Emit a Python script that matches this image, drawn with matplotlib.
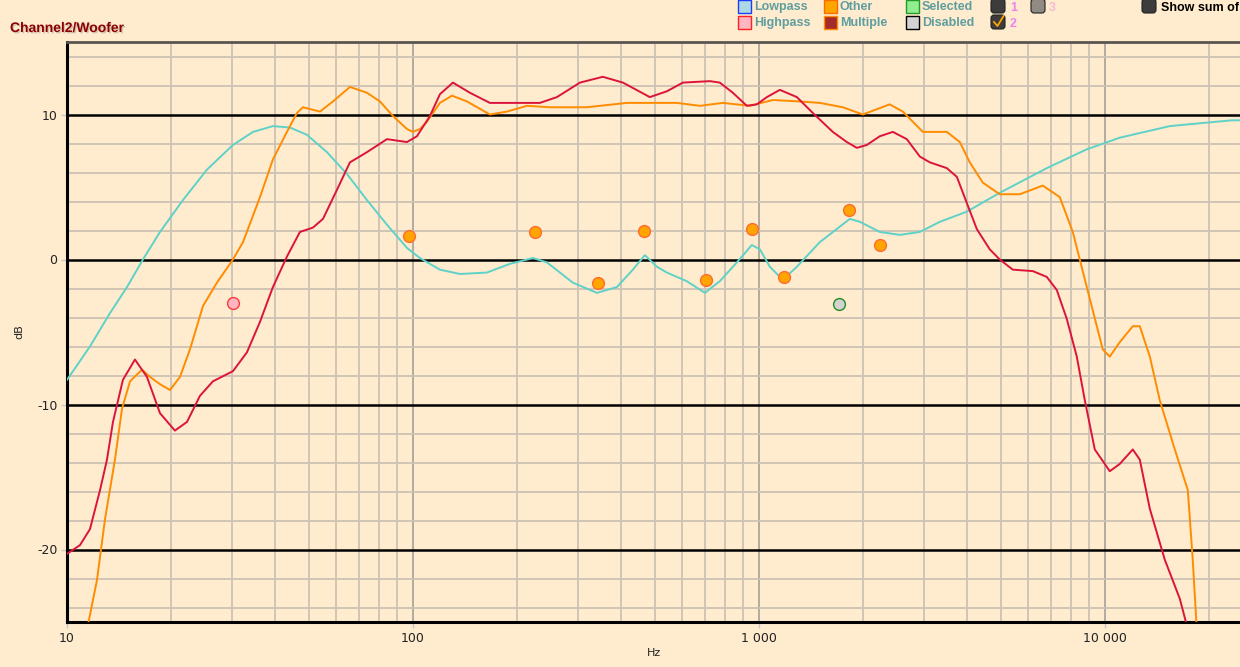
import matplotlib
matplotlib.use("Agg")
import matplotlib.pyplot as plt
from matplotlib.ticker import FixedLocator, MultipleLocator, NullFormatter
from matplotlib.patches import Rectangle, FancyBboxPatch
import matplotlib.patheffects as pe

# ---------------- data ----------------
red_freq = [10.0, 10.9, 11.65, 12.46, 13.05, 13.58, 14.51, 15.72, 17.03, 18.57, 20.51, 22.23,
            24.23, 26.42, 30.18, 33.13, 36.13, 39.38, 43.23, 47.13, 51.4, 54.95, 60.29, 65.75,
            73.62, 84.13, 96.1, 102.7, 112.0, 119.7, 130.5, 146.1, 166.9, 199.7, 232.8, 260.8,
            304, 354, 404.6, 484, 542, 603, 722, 771, 841, 923, 987, 1055, 1150, 1288, 1433,
            1636, 1796, 1920, 2052, 2237, 2440, 2677, 2920, 3121, 3495, 3736, 3992, 4267, 4651,
            4971, 5422, 6194, 6797, 7265, 7767, 8301, 8755, 9357, 10340, 11050, 12050, 12625,
            13500, 14910, 16480, 17380]
red_db = [-20.3, -19.7, -18.6, -15.9, -13.8, -11.2, -8.3, -6.9, -8.1, -10.6, -11.8, -11.2,
          -9.4, -8.4, -7.7, -6.4, -4.3, -1.9, 0.2, 1.9, 2.2, 2.8, 4.8, 6.7,
          7.4, 8.3, 8.1, 8.5, 9.9, 11.4, 12.2, 11.5, 10.8, 10.8, 10.8, 11.2,
          12.2, 12.6, 12.2, 11.2, 11.6, 12.2, 12.3, 12.2, 11.5, 10.6, 10.7, 11.2, 11.7, 11.2, 10.1,
          8.8, 8.1, 7.7, 7.9, 8.5, 8.8, 8.3, 7.1, 6.7, 6.3, 5.7, 3.9, 2.1, 0.7,
          0.0, -0.7, -0.8, -1.2, -2.1, -4.1, -6.7, -9.7, -13.1, -14.6, -14.1, -13.1, -13.8,
          -17.2, -20.7, -23.4, -25.5]

orange_freq = [11.43, 12.21, 12.88, 13.76, 14.42, 15.21, 16.47, 17.38, 18.57, 19.85, 21.21,
               22.67, 24.73, 27.13, 30.18, 32.27, 36.13, 39.38, 43.23, 46.2, 48.09, 53.86,
               58.73, 65.75, 73.62, 80.3, 87.5, 96.1, 100, 104.8, 109.8, 114.2, 119.7, 129.7,
               143.3, 166.9, 186.9, 213.6, 248.9, 318.4, 415.5, 493.8, 579.4, 675.3, 787, 942,
               1098, 1314, 1501, 1749, 1998, 2390, 2608, 2979, 3495, 3810, 4072, 4441, 4971,
               5680, 6618, 7413, 8082, 8872, 9868, 10340, 11050, 12050, 12625, 13500, 14420,
               15940, 17380, 17960, 18450]
orange_db = [-25.5, -22.1, -17.9, -13.8, -10.3, -8.4, -7.6, -8.1, -8.6, -9.0, -8.1,
             -6.2, -3.2, -1.6, 0.0, 1.2, 4.3, 6.9, 8.8, 10.1, 10.5, 10.2,
             10.9, 11.9, 11.5, 10.9, 9.9, 9.0, 8.8, 9.0, 9.5, 10.1, 10.8, 11.3,
             10.9, 10.0, 10.2, 10.6, 10.5, 10.5, 10.8, 10.8, 10.8, 10.6, 10.8, 10.6,
             11.0, 10.9, 10.8, 10.5, 10.0, 10.7, 10.2, 8.8, 8.8, 8.1, 6.7, 5.3, 4.5,
             4.5, 5.1, 4.3, 1.9, -1.9, -6.2, -6.7, -5.7, -4.6, -4.6, -6.7, -9.7,
             -13.1, -15.9, -20.7, -25.5]

cyan_freq = [10.0, 11.65, 13.31, 14.91, 16.58, 18.57, 21.64, 25.39, 30.18, 34.49, 39.38, 44.11,
             49.39, 56.44, 64.45, 73.62, 84.13, 96.1, 104.8, 119.7, 136.7, 163.6, 190.7, 222.3,
             244, 290, 340.3, 388.8, 432.3, 468.3, 507.4, 542, 619.4, 698.3, 771, 863.8, 954.5,
             1007, 1076, 1173, 1288, 1501, 1832, 1959, 2237, 2556, 2920, 3336, 3992, 4971, 6797,
             8872, 11050, 15410, 23290, 24560]
cyan_db = [-8.3, -6.0, -3.7, -1.9, 0.0, 1.9, 4.1, 6.2, 7.9, 8.8, 9.2, 9.1,
           8.6, 7.4, 5.9, 4.1, 2.4, 0.8, 0.1, -0.7, -1.0, -0.9, -0.3, 0.1,
           -0.2, -1.6, -2.3, -1.9, -0.7, 0.3, -0.5, -0.9, -1.5, -2.3, -1.5, -0.2, 1.0,
           0.7, -0.5, -1.4, -0.5, 1.2, 2.8, 2.6, 1.9, 1.7, 1.9, 2.6, 3.3, 4.6, 6.3,
           7.6, 8.4, 9.2, 9.6, 9.6]

other_freq = [97.3, 225, 342, 465, 703, 954, 1181, 1820, 2237]
other_db = [1.6, 1.9, -1.6, 2.0, -1.4, 2.1, -1.2, 3.4, 1.0]
highpass_freq = [30.2]
highpass_db = [-3.0]
disabled_freq = [1703]
disabled_db = [-3.1]

x_ticks = [10, 100, 1000, 10000]
x_tick_labels = ["10", "100", "1 000", "10 000"]
y_ticks = [-20, -10, 0, 10]
y_tick_labels = ["-20", "-10", "0", "10"]

# ---------------- figure ----------------
W, H = 1240, 667
BG = "#FFEBCD"
fig = plt.figure(figsize=(W / 100, H / 100), dpi=100, facecolor=BG)
ax = fig.add_axes([67 / W, 1 - 622 / H, 1 - 67 / W, (622 - 42) / H], facecolor=BG)

ax.set_xscale("log")
ax.set_xlim(10, 24600)
ax.set_ylim(-25, 15)

ax.xaxis.set_major_locator(FixedLocator(x_ticks))
ax.set_xticklabels(x_tick_labels)
minor_x = [m * d for d in (10, 100, 1000, 10000) for m in range(2, 10)]
ax.xaxis.set_minor_locator(FixedLocator(minor_x))
ax.xaxis.set_minor_formatter(NullFormatter())
ax.yaxis.set_major_locator(FixedLocator(y_ticks))
ax.set_yticklabels(y_tick_labels)
ax.yaxis.set_minor_locator(MultipleLocator(2))

ax.set_axisbelow(True)
ax.xaxis.grid(True, which="major", color="#ABA69E", lw=1.3)
ax.xaxis.grid(True, which="minor", color="#CDC3B3", lw=1.3)
ax.yaxis.grid(True, which="major", color="black", lw=1.8)
ax.yaxis.grid(True, which="minor", color="#CDC3B3", lw=1.3)

ax.tick_params(which="major", length=4, width=1, color="#C8C8C8", labelsize=9,
               labelcolor="#222222", pad=3)
ax.tick_params(which="minor", length=0)

for s in ("left", "bottom"):
    ax.spines[s].set_color("black")
    ax.spines[s].set_linewidth(2.2)
ax.spines["top"].set_color("#5A5550")
ax.spines["top"].set_linewidth(2.0)
ax.spines["right"].set_visible(False)

ax.set_xlabel("Hz", fontsize=8, labelpad=2, color="#222222")
ax.set_ylabel("dB", fontsize=8, labelpad=9, color="#222222")

lw = 1.4
ax.plot(cyan_freq, cyan_db, color="#5ED2C8", lw=lw, zorder=3)
ax.plot(orange_freq, orange_db, color="#FF8C00", lw=lw, zorder=4)
ax.plot(red_freq, red_db, color="#DC143C", lw=lw, zorder=5)

ax.plot(other_freq, other_db, "o", ms=8.5, mfc="#FFA500", mec="#FF6A30", mew=1.0, zorder=6)
ax.plot(highpass_freq, highpass_db, "o", ms=8.5, mfc="#FFB6C1", mec="#FF3A3A", mew=1.0, zorder=6)
ax.plot(disabled_freq, disabled_db, "o", ms=8.5, mfc="#D3D3D3", mec="#228B22", mew=1.0, zorder=6)

# ---------------- overlay (title, legend) in pixel coordinates ----------------
ov = fig.add_axes([0, 0, 1, 1], facecolor="none")
ov.set_xlim(0, W)
ov.set_ylim(H, 0)
ov.axis("off")

ov.text(10, 28, "Channel2/Woofer", fontsize=10, fontweight="bold", color="#8B0000",
        va="center", ha="left", family="Liberation Sans",
        path_effects=[pe.withSimplePatchShadow(offset=(1, -1), shadow_rgbFace="#808080", alpha=0.35)])

leg_color = "#5F9EA0"
items = [
    (738, 6, "#ADD8E6", "#1E3CFF", "Lowpass"),
    (738, 22, "#FFB6C1", "#FF2020", "Highpass"),
    (824, 6, "#FFA500", "#FF6A00", "Other"),
    (824, 22, "#A52A2A", "#FF8C00", "Multiple"),
    (906, 6, "#90EE90", "#229922", "Selected"),
    (906, 22, "#D3D3D3", "#000000", "Disabled"),
]
for x0, yc, fc, ec, label in items:
    ov.add_patch(Rectangle((x0, yc - 6.5), 13, 13, facecolor=fc, edgecolor=ec, lw=1.0))
    ov.text(x0 + 16, yc + 1, label, fontsize=9, fontweight="bold", color=leg_color,
            va="center", ha="left", family="Liberation Sans")

def checkbox(x0, yc, fc):
    ov.add_patch(FancyBboxPatch((x0 + 2, yc - 5), 10, 10, boxstyle="round,pad=2,rounding_size=3",
                                facecolor=fc, edgecolor="#222222", lw=0.8))

checkbox(991, 6, "#3C3C3C")
ov.text(1010, 8, "1", fontsize=9, fontweight="bold", color="#EE82EE", va="center",
        family="Liberation Sans")
checkbox(991, 22, "#3C3C3C")
ov.plot([994, 997.5, 1003.5], [22, 26, 16], color="#FFA500", lw=1.3)
ov.text(1010, 24, "2", fontsize=9, fontweight="bold", color="#EE82EE", va="center",
        family="Liberation Sans")
checkbox(1031, 6, "#8F8A82")
ov.text(1049, 8, "3", fontsize=9, fontweight="bold", color="#F5B8D8", va="center",
        family="Liberation Sans")
checkbox(1142, 6, "#3C3C3C")
ov.text(1161, 8, "Show sum of all", fontsize=9, fontweight="bold", color="black", va="center",
        family="Liberation Sans")

fig.savefig("out.png", dpi=100, facecolor=BG)
